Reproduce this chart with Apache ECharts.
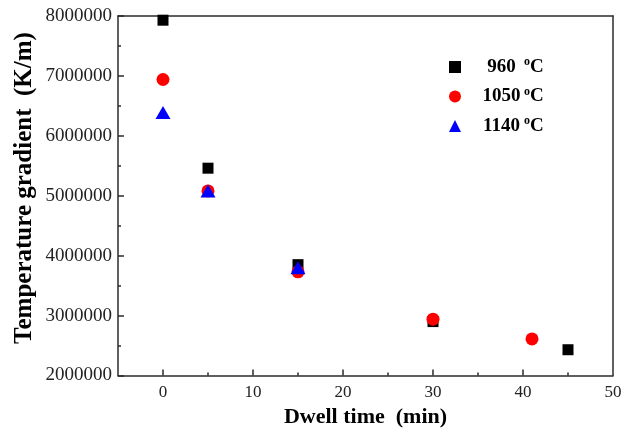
<!DOCTYPE html>
<html>
<head>
<meta charset="utf-8">
<script src="https://cdn.jsdelivr.net/npm/echarts@6/dist/echarts.min.js"></script>
<style>
  html, body { margin: 0; padding: 0; background: #fff; }
  #chart { width: 634px; height: 429px; }
</style>
</head>
<body>
<div id="chart"></div>
<script>
// Dwell time (min) and temperature gradient (K/m) for each hold temperature
const temps = ['960', '1050', '1140'];
const time960 = [0, 5, 15, 30, 45];
const grad960 = [7930000, 5460000, 3850000, 2900000, 2430000];
const time1050 = [0, 5, 15, 30, 41];
const grad1050 = [6940000, 5080000, 3730000, 2940000, 2610000];
const time1140 = [0, 5, 15];
const grad1140 = [6390000, 5080000, 3800000];

const xMajor = [0, 10, 20, 30, 40];
const xMinor = [5, 15, 25, 35, 45];
const xLabels = [0, 10, 20, 30, 40, 50];

const pair = (xs, ys) => xs.map((x, i) => [x, ys[i]]);

const serif = "'Liberation Serif', 'Times New Roman', serif";
const axisColor = '#2b2b2b';

const chart = echarts.init(document.getElementById('chart'));

chart.setOption({
  animation: false,
  backgroundColor: '#fff',
  grid: { left: 118, right: 21, top: 16, bottom: 53.5, containLabel: false, outerBoundsMode: 'none' },
  // vertical y-axis title, placed beside the tick labels
  graphic: [
    {
      type: 'text',
      x: 25,
      y: 188,
      rotation: Math.PI / 2,
      style: {
        text: 'Temperature gradient  (K/m)',
        fontFamily: serif,
        fontWeight: 'bold',
        fontSize: 25,
        fill: '#000',
        align: 'center',
        verticalAlign: 'middle'
      }
    }
  ],
  legend: {
    orient: 'vertical',
    left: 449,
    top: 56,
    padding: 0,
    itemWidth: 12,
    itemHeight: 12,
    itemGap: 8.5,
    data: temps,
    formatter: name => '{n|' + name + '}{s|o}{c|C}',
    textStyle: {
      fontFamily: serif,
      fontWeight: 'bold',
      fontSize: 19,
      color: '#000',
      rich: {
        n: { fontFamily: serif, fontWeight: 'bold', fontSize: 19, width: 37, align: 'center', lineHeight: 22, padding: [0, 0, 0, 17] },
        s: { fontFamily: serif, fontWeight: 'bold', fontSize: 12, verticalAlign: 'top', lineHeight: 22, padding: [0, 0, 9, 4] },
        c: { fontFamily: serif, fontWeight: 'bold', fontSize: 19, lineHeight: 22 }
      }
    }
  },
  xAxis: [
    {
      type: 'value', min: -5, max: 50, position: 'bottom',
      name: 'Dwell time  (min)', nameLocation: 'middle', nameGap: 30,
      nameTextStyle: { fontFamily: serif, fontWeight: 'bold', fontSize: 22, color: '#000' },
      splitLine: { show: false },
      axisLine: { show: true, onZero: false, lineStyle: { color: axisColor, width: 1.5 } },
      axisTick: { show: true, inside: true, length: 6, customValues: xMajor, lineStyle: { color: axisColor, width: 1.5 } },
      axisLabel: { customValues: xLabels, margin: 9, fontFamily: serif, fontSize: 17, color: '#222', showMaxLabel: true, showMinLabel: true }
    },
    {
      type: 'value', min: -5, max: 50, position: 'bottom',
      splitLine: { show: false },
      axisLine: { show: false, onZero: false },
      axisTick: { show: true, inside: true, length: 3, customValues: xMinor, lineStyle: { color: axisColor, width: 1.5 } },
      axisLabel: { show: false }
    },
    {
      type: 'value', min: -5, max: 50, position: 'top',
      splitLine: { show: false },
      axisLine: { show: true, onZero: false, lineStyle: { color: axisColor, width: 1.5 } },
      axisTick: { show: false },
      axisLabel: { show: false }
    }
  ],
  yAxis: [
    {
      type: 'value', min: 2000000, max: 8000000, interval: 1000000, position: 'left',
      splitLine: { show: false },
      axisLine: { show: true, onZero: false, lineStyle: { color: axisColor, width: 1.5 } },
      axisTick: { show: true, inside: true, length: 6, lineStyle: { color: axisColor, width: 1.5 } },
      minorTick: { show: true, splitNumber: 2, length: 3, lineStyle: { color: axisColor, width: 1.5 } },
      minorSplitLine: { show: false },
      axisLabel: { margin: 6, fontFamily: serif, fontSize: 19, color: '#222', formatter: v => String(v) }
    },
    {
      type: 'value', min: 2000000, max: 8000000, position: 'right',
      splitLine: { show: false },
      axisLine: { show: true, onZero: false, lineStyle: { color: axisColor, width: 1.5 } },
      axisTick: { show: false },
      axisLabel: { show: false }
    }
  ],
  series: [
    {
      name: temps[0], type: 'scatter', symbol: 'rect', symbolSize: 11,
      itemStyle: { color: '#000', opacity: 1 }, data: pair(time960, grad960)
    },
    {
      name: temps[1], type: 'scatter', symbol: 'circle', symbolSize: 13,
      itemStyle: { color: '#ff0000', opacity: 1 }, data: pair(time1050, grad1050)
    },
    {
      name: temps[2], type: 'scatter', symbol: 'triangle', symbolSize: [15, 13],
      itemStyle: { color: '#0000ff', opacity: 1 }, data: pair(time1140, grad1140)
    }
  ]
});
</script>
</body>
</html>
